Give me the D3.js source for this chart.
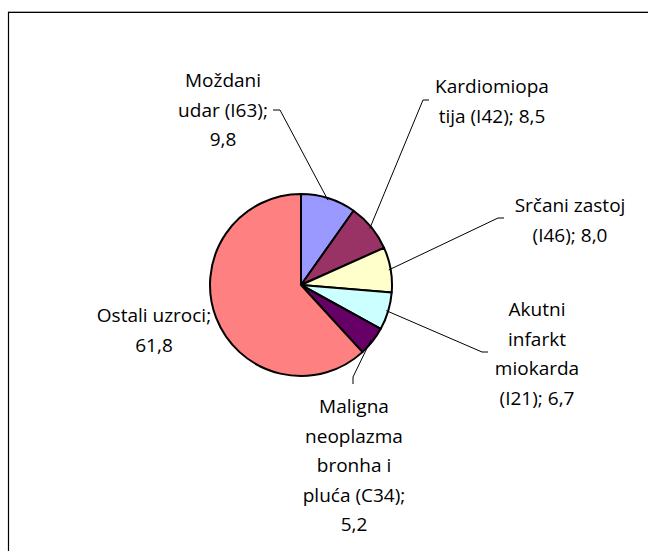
<!DOCTYPE html>
<html>
<head>
<meta charset="utf-8">
<script src="https://cdn.jsdelivr.net/npm/d3@7"></script>
<style>
  html, body { margin: 0; padding: 0; background: #fff; }
  svg { display: block; }
  text { font-family: "Open Sans", sans-serif; font-size: 19px; fill: #000; }
</style>
</head>
<body>
<svg id="chart" width="648" height="551"></svg>
<script>
// Data
const categories = ["Moždani udar (I63)", "Kardiomiopatija (I42)", "Srčani zastoj (I46)",
                    "Akutni infarkt miokarda (I21)", "Maligna neoplazma bronha i pluća (C34)", "Ostali uzroci"];
const values = [9.8, 8.5, 8.0, 6.7, 5.2, 61.8];
const colors = ["#9999FF", "#993366", "#FFFFCC", "#CCFFFF", "#660066", "#FF8080"];
const labelLines = [
  ["Moždani", "udar (I63);", "9,8"],
  ["Kardiomiopa", "tija (I42); 8,5"],
  ["Srčani zastoj", "(I46); 8,0"],
  ["Akutni", "infarkt", "miokarda", "(I21); 6,7"],
  ["Maligna", "neoplazma", "bronha i", "pluća (C34);", "5,2"],
  ["Ostali uzroci;", "61,8"]
];

// Layout
const cx = 301, cy = 285, R = 91;
const lineH = 29.5;
// label centre x, first baseline y, leader elbow [x,y] and leader end near label
const labelLayout = [
  { x: 223, y: 87, elbow: [280, 110], end: [273, 110] },
  { x: 492, y: 93, elbow: [423, 100], end: [429, 100] },
  { x: 570, y: 212, elbow: [498, 218], end: [504, 218] },
  { x: 537, y: 316, elbow: [482, 352], end: [488, 352] },
  { x: 354, y: 413, elbow: [353, 377], end: [353, 384] },
  { x: 154, y: 322, elbow: null, end: null }
];

const svg = d3.select("#chart");

// Frame (partially visible chart area border)
svg.append("line").attr("x1", 8).attr("x2", 648).attr("y1", 11.5).attr("y2", 11.5)
  .attr("stroke", "#aaa").attr("stroke-width", 1);
svg.append("line").attr("x1", 8).attr("x2", 648).attr("y1", 12.5).attr("y2", 12.5)
  .attr("stroke", "#000").attr("stroke-width", 1.2);
svg.append("line").attr("x1", 8.5).attr("x2", 8.5).attr("y1", 12).attr("y2", 551)
  .attr("stroke", "#000").attr("stroke-width", 1.2);

const pie = d3.pie().sort(null).value(d => d)
  .startAngle(0).endAngle(2 * Math.PI);
const arcs = pie(values);
const arc = d3.arc().innerRadius(0).outerRadius(R);

const g = svg.append("g").attr("transform", `translate(${cx},${cy})`);
g.selectAll("path.slice").data(arcs).join("path")
  .attr("class", "slice")
  .attr("d", arc)
  .attr("fill", (d, i) => colors[i])
  .attr("stroke", "#000")
  .attr("stroke-width", 2)
  .attr("stroke-linejoin", "round");

// Leader lines
arcs.forEach((d, i) => {
  const L = labelLayout[i];
  if (!L.elbow) return;
  const a = (d.startAngle + d.endAngle) / 2;
  const px = cx + Math.sin(a) * (R - 2);
  const py = cy - Math.cos(a) * (R - 2);
  svg.append("polyline")
    .attr("points", [[px, py], L.elbow, L.end].map(p => p.join(",")).join(" "))
    .attr("fill", "none").attr("stroke", "#000").attr("stroke-width", 1);
});

// Labels
labelLines.forEach((lines, i) => {
  const L = labelLayout[i];
  const t = svg.append("text").attr("text-anchor", "middle");
  lines.forEach((ln, j) => {
    t.append("tspan").attr("x", L.x).attr("y", L.y + j * lineH).text(ln);
  });
});
</script>
</body>
</html>
